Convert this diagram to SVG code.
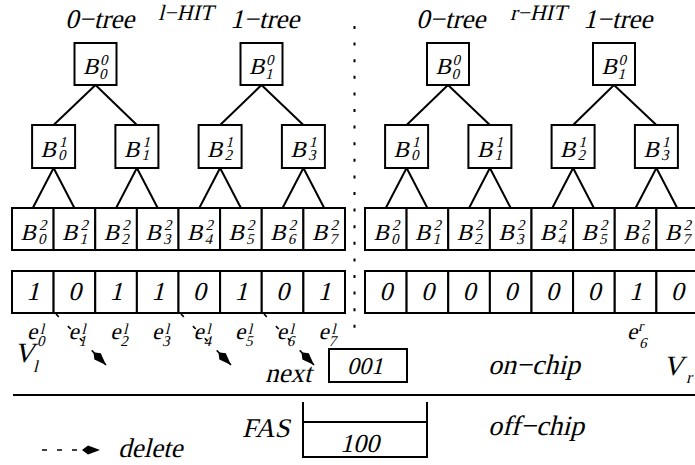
<svg xmlns="http://www.w3.org/2000/svg" width="695" height="465" viewBox="0 0 695 465">
<style>
text{font-family:'Liberation Serif','Times New Roman',serif;font-style:normal;fill:#000}
.b{font-size:23px}
.s{font-size:15px}
.d{font-size:26px}
.big{font-size:27px}
.hit{font-size:22px}
.box{fill:#fff;stroke:#000;stroke-width:2}
.edge{stroke:#000;stroke-width:2;fill:none}
.dash{stroke:#000;stroke-width:1.6;fill:none;stroke-dasharray:4 13}
</style>
<defs>
<marker id="kite" viewBox="-19 -6 20 12" markerWidth="20" markerHeight="12" refX="0" refY="0" orient="auto" markerUnits="userSpaceOnUse">
<path d="M0,0 L-12,-4.5 L-18,0 L-12,4.5 Z" fill="#000"/>
</marker>
</defs>
<rect width="695" height="465" fill="#fff"/>

<!-- titles -->
<text class="big" transform="translate(65,28) skewX(-14)">0−tree</text>
<text class="hit" transform="translate(158,20) skewX(-14)">l−HIT</text>
<text class="big" transform="translate(230,28) skewX(-14)">1−tree</text>
<text class="big" transform="translate(416,28) skewX(-14)">0−tree</text>
<text class="hit" transform="translate(510,20) skewX(-14)">r−HIT</text>
<text class="big" transform="translate(583,28) skewX(-14)">1−tree</text>

<!-- connectors -->
<g id="connectors">
<path class="edge" d="M95.5,85 L53.6,125 M95.5,85 L136.9,125 M261.5,85 L220.1,125 M261.5,85 L303.4,125"/>
<path class="edge" d="M53.6,168 L32.8,208 M53.6,168 L74.4,208 M136.9,168 L116.1,208 M136.9,168 L157.7,208 M220.1,168 L199.3,208 M220.1,168 L240.9,208 M303.4,168 L282.6,208 M303.4,168 L324.2,208"/>
<path class="edge" d="M448,85 L406.6,125 M448,85 L489.9,125 M614,85 L573.1,125 M614,85 L656.4,125"/>
<path class="edge" d="M406.6,168 L385.8,208 M406.6,168 L427.4,208 M489.9,168 L469.1,208 M489.9,168 L510.7,208 M573.1,168 L552.3,208 M573.1,168 L593.9,208 M656.4,168 L635.6,208 M656.4,168 L677.2,208"/>
<line class="dash" x1="56" y1="314" x2="106" y2="365" marker-end="url(#kite)"/>
<line class="dash" x1="181" y1="314" x2="231" y2="365" marker-end="url(#kite)"/>
<line class="dash" x1="264" y1="314" x2="314" y2="365" marker-end="url(#kite)"/>
</g>

<!-- separator lines -->
<line x1="354.5" y1="26" x2="354.5" y2="331" stroke="#000" stroke-width="2" stroke-dasharray="3 13.6"/>
<line x1="13" y1="395" x2="695" y2="395" stroke="#000" stroke-width="2"/>

<!-- left tree -->
<g id="lB00"><rect class="box" x="74.5" y="43" width="42" height="42"/><text class="b" transform="translate(83,74) skewX(-14)">B</text><text class="s" transform="translate(100,65) skewX(-14)">0</text><text class="s" transform="translate(99,79) skewX(-14)">0</text></g>
<g id="lB10"><rect class="box" x="240.5" y="43" width="42" height="42"/><text class="b" transform="translate(249,74) skewX(-14)">B</text><text class="s" transform="translate(266,65) skewX(-14)">0</text><text class="s" transform="translate(265,79) skewX(-14)">1</text></g>

<g id="lB01"><rect class="box" x="32.1" y="125" width="43" height="43"/><text class="b" transform="translate(40.6,157) skewX(-14)">B</text><text class="s" transform="translate(59,147) skewX(-14)">1</text><text class="s" transform="translate(58,160) skewX(-14)">0</text></g>
<g id="lB11"><rect class="box" x="115.4" y="125" width="43" height="43"/><text class="b" transform="translate(123.9,157) skewX(-14)">B</text><text class="s" transform="translate(142.4,147) skewX(-14)">1</text><text class="s" transform="translate(141.4,160) skewX(-14)">1</text></g>
<g id="lB21"><rect class="box" x="198.6" y="125" width="43" height="43"/><text class="b" transform="translate(207.1,157) skewX(-14)">B</text><text class="s" transform="translate(225.6,147) skewX(-14)">1</text><text class="s" transform="translate(224.6,160) skewX(-14)">2</text></g>
<g id="lB31"><rect class="box" x="281.9" y="125" width="43" height="43"/><text class="b" transform="translate(290.4,157) skewX(-14)">B</text><text class="s" transform="translate(308.9,147) skewX(-14)">1</text><text class="s" transform="translate(307.9,160) skewX(-14)">3</text></g>

<g id="lB02"><rect class="box" x="12" y="208" width="41.6" height="42"/><text class="b" transform="translate(20.5,240) skewX(-14)">B</text><text class="s" transform="translate(39,230) skewX(-14)">2</text><text class="s" transform="translate(38,244) skewX(-14)">0</text></g>
<g id="lB12"><rect class="box" x="53.6" y="208" width="41.6" height="42"/><text class="b" transform="translate(62.1,240) skewX(-14)">B</text><text class="s" transform="translate(80.6,230) skewX(-14)">2</text><text class="s" transform="translate(79.6,244) skewX(-14)">1</text></g>
<g id="lB22"><rect class="box" x="95.25" y="208" width="41.6" height="42"/><text class="b" transform="translate(103.7,240) skewX(-14)">B</text><text class="s" transform="translate(122.2,230) skewX(-14)">2</text><text class="s" transform="translate(121.2,244) skewX(-14)">2</text></g>
<g id="lB32"><rect class="box" x="136.9" y="208" width="41.6" height="42"/><text class="b" transform="translate(145.4,240) skewX(-14)">B</text><text class="s" transform="translate(163.9,230) skewX(-14)">2</text><text class="s" transform="translate(162.9,244) skewX(-14)">3</text></g>
<g id="lB42"><rect class="box" x="178.5" y="208" width="41.6" height="42"/><text class="b" transform="translate(187,240) skewX(-14)">B</text><text class="s" transform="translate(205.5,230) skewX(-14)">2</text><text class="s" transform="translate(204.5,244) skewX(-14)">4</text></g>
<g id="lB52"><rect class="box" x="220.1" y="208" width="41.6" height="42"/><text class="b" transform="translate(228.6,240) skewX(-14)">B</text><text class="s" transform="translate(247.1,230) skewX(-14)">2</text><text class="s" transform="translate(246.1,244) skewX(-14)">5</text></g>
<g id="lB62"><rect class="box" x="261.75" y="208" width="41.6" height="42"/><text class="b" transform="translate(270.2,240) skewX(-14)">B</text><text class="s" transform="translate(288.7,230) skewX(-14)">2</text><text class="s" transform="translate(287.7,244) skewX(-14)">6</text></g>
<g id="lB72"><rect class="box" x="303.4" y="208" width="41.6" height="42"/><text class="b" transform="translate(311.9,240) skewX(-14)">B</text><text class="s" transform="translate(330.4,230) skewX(-14)">2</text><text class="s" transform="translate(329.4,244) skewX(-14)">7</text></g>

<!-- right tree -->
<g id="rB00"><rect class="box" x="427" y="43" width="42" height="42"/><text class="b" transform="translate(435.5,74) skewX(-14)">B</text><text class="s" transform="translate(452.5,65) skewX(-14)">0</text><text class="s" transform="translate(451.5,79) skewX(-14)">0</text></g>
<g id="rB10"><rect class="box" x="593" y="43" width="42" height="42"/><text class="b" transform="translate(601.5,74) skewX(-14)">B</text><text class="s" transform="translate(618.5,65) skewX(-14)">0</text><text class="s" transform="translate(617.5,79) skewX(-14)">1</text></g>

<g id="rB01"><rect class="box" x="385.1" y="125" width="43" height="43"/><text class="b" transform="translate(393.6,157) skewX(-14)">B</text><text class="s" transform="translate(412.1,147) skewX(-14)">1</text><text class="s" transform="translate(411.1,160) skewX(-14)">0</text></g>
<g id="rB11"><rect class="box" x="468.4" y="125" width="43" height="43"/><text class="b" transform="translate(476.9,157) skewX(-14)">B</text><text class="s" transform="translate(495.4,147) skewX(-14)">1</text><text class="s" transform="translate(494.4,160) skewX(-14)">1</text></g>
<g id="rB21"><rect class="box" x="551.6" y="125" width="43" height="43"/><text class="b" transform="translate(560.1,157) skewX(-14)">B</text><text class="s" transform="translate(578.6,147) skewX(-14)">1</text><text class="s" transform="translate(577.6,160) skewX(-14)">2</text></g>
<g id="rB31"><rect class="box" x="634.9" y="125" width="43" height="43"/><text class="b" transform="translate(643.4,157) skewX(-14)">B</text><text class="s" transform="translate(661.9,147) skewX(-14)">1</text><text class="s" transform="translate(660.9,160) skewX(-14)">3</text></g>

<g id="rB02"><rect class="box" x="365" y="208" width="41.6" height="42"/><text class="b" transform="translate(373.5,240) skewX(-14)">B</text><text class="s" transform="translate(392,230) skewX(-14)">2</text><text class="s" transform="translate(391,244) skewX(-14)">0</text></g>
<g id="rB12"><rect class="box" x="406.6" y="208" width="41.6" height="42"/><text class="b" transform="translate(415.1,240) skewX(-14)">B</text><text class="s" transform="translate(433.6,230) skewX(-14)">2</text><text class="s" transform="translate(432.6,244) skewX(-14)">1</text></g>
<g id="rB22"><rect class="box" x="448.25" y="208" width="41.6" height="42"/><text class="b" transform="translate(456.7,240) skewX(-14)">B</text><text class="s" transform="translate(475.2,230) skewX(-14)">2</text><text class="s" transform="translate(474.2,244) skewX(-14)">2</text></g>
<g id="rB32"><rect class="box" x="489.9" y="208" width="41.6" height="42"/><text class="b" transform="translate(498.4,240) skewX(-14)">B</text><text class="s" transform="translate(516.9,230) skewX(-14)">2</text><text class="s" transform="translate(515.9,244) skewX(-14)">3</text></g>
<g id="rB42"><rect class="box" x="531.5" y="208" width="41.6" height="42"/><text class="b" transform="translate(540,240) skewX(-14)">B</text><text class="s" transform="translate(558.5,230) skewX(-14)">2</text><text class="s" transform="translate(557.5,244) skewX(-14)">4</text></g>
<g id="rB52"><rect class="box" x="573.1" y="208" width="41.6" height="42"/><text class="b" transform="translate(581.6,240) skewX(-14)">B</text><text class="s" transform="translate(600.1,230) skewX(-14)">2</text><text class="s" transform="translate(599.1,244) skewX(-14)">5</text></g>
<g id="rB62"><rect class="box" x="614.75" y="208" width="41.6" height="42"/><text class="b" transform="translate(623.2,240) skewX(-14)">B</text><text class="s" transform="translate(641.7,230) skewX(-14)">2</text><text class="s" transform="translate(640.7,244) skewX(-14)">6</text></g>
<g id="rB72"><rect class="box" x="656.4" y="208" width="41.6" height="42"/><text class="b" transform="translate(664.9,240) skewX(-14)">B</text><text class="s" transform="translate(683.4,230) skewX(-14)">2</text><text class="s" transform="translate(682.4,244) skewX(-14)">7</text></g>

<!-- bit vectors -->
<g id="Vl" text-anchor="middle">
<rect class="box" x="12" y="271" width="41.6" height="42"/><text class="d" transform="translate(32.8,300) skewX(-14)">1</text>
<rect class="box" x="53.6" y="271" width="41.6" height="42"/><text class="d" transform="translate(74.4,300) skewX(-14)">0</text>
<rect class="box" x="95.25" y="271" width="41.6" height="42"/><text class="d" transform="translate(116.1,300) skewX(-14)">1</text>
<rect class="box" x="136.9" y="271" width="41.6" height="42"/><text class="d" transform="translate(157.7,300) skewX(-14)">1</text>
<rect class="box" x="178.5" y="271" width="41.6" height="42"/><text class="d" transform="translate(199.3,300) skewX(-14)">0</text>
<rect class="box" x="220.1" y="271" width="41.6" height="42"/><text class="d" transform="translate(240.9,300) skewX(-14)">1</text>
<rect class="box" x="261.75" y="271" width="41.6" height="42"/><text class="d" transform="translate(282.6,300) skewX(-14)">0</text>
<rect class="box" x="303.4" y="271" width="41.6" height="42"/><text class="d" transform="translate(324.2,300) skewX(-14)">1</text>
</g>
<g id="Vr" text-anchor="middle">
<rect class="box" x="365" y="271" width="41.6" height="42"/><text class="d" transform="translate(385.8,300) skewX(-14)">0</text>
<rect class="box" x="406.6" y="271" width="41.6" height="42"/><text class="d" transform="translate(427.4,300) skewX(-14)">0</text>
<rect class="box" x="448.25" y="271" width="41.6" height="42"/><text class="d" transform="translate(469.1,300) skewX(-14)">0</text>
<rect class="box" x="489.9" y="271" width="41.6" height="42"/><text class="d" transform="translate(510.7,300) skewX(-14)">0</text>
<rect class="box" x="531.5" y="271" width="41.6" height="42"/><text class="d" transform="translate(552.3,300) skewX(-14)">0</text>
<rect class="box" x="573.1" y="271" width="41.6" height="42"/><text class="d" transform="translate(593.9,300) skewX(-14)">0</text>
<rect class="box" x="614.75" y="271" width="41.6" height="42"/><text class="d" transform="translate(635.6,300) skewX(-14)">1</text>
<rect class="box" x="656.4" y="271" width="41.6" height="42"/><text class="d" transform="translate(677.2,300) skewX(-14)">0</text>
</g>

<!-- element labels -->
<g id="elabels">
<text class="b" transform="translate(27,339) skewX(-14)">e</text><text class="s" transform="translate(40,334) skewX(-14)">l</text><text class="s" transform="translate(37,346) skewX(-14)">0</text>
<text class="b" transform="translate(68.6,339) skewX(-14)">e</text><text class="s" transform="translate(81.6,334) skewX(-14)">l</text><text class="s" transform="translate(78.6,346) skewX(-14)">1</text>
<text class="b" transform="translate(110.3,339) skewX(-14)">e</text><text class="s" transform="translate(123.3,334) skewX(-14)">l</text><text class="s" transform="translate(120.3,346) skewX(-14)">2</text>
<text class="b" transform="translate(151.9,339) skewX(-14)">e</text><text class="s" transform="translate(164.9,334) skewX(-14)">l</text><text class="s" transform="translate(161.9,346) skewX(-14)">3</text>
<text class="b" transform="translate(193.5,339) skewX(-14)">e</text><text class="s" transform="translate(206.5,334) skewX(-14)">l</text><text class="s" transform="translate(203.5,346) skewX(-14)">4</text>
<text class="b" transform="translate(235.1,339) skewX(-14)">e</text><text class="s" transform="translate(248.1,334) skewX(-14)">l</text><text class="s" transform="translate(245.1,346) skewX(-14)">5</text>
<text class="b" transform="translate(276.8,339) skewX(-14)">e</text><text class="s" transform="translate(289.8,334) skewX(-14)">l</text><text class="s" transform="translate(286.8,346) skewX(-14)">6</text>
<text class="b" transform="translate(318.4,339) skewX(-14)">e</text><text class="s" transform="translate(331.4,334) skewX(-14)">l</text><text class="s" transform="translate(328.4,346) skewX(-14)">7</text>
<text class="b" transform="translate(627,339) skewX(-14)">e</text><text class="s" transform="translate(638,331) skewX(-14)">r</text><text class="s" transform="translate(639,348) skewX(-14)">6</text>
</g>

<g id="VlLabel"><text style="font-size:28px" transform="translate(14,362) skewX(-14)">V</text><text style="font-size:17px" transform="translate(33,372) skewX(-14)">l</text></g>
<g id="VrLabel"><text style="font-size:28px" transform="translate(663,375) skewX(-14)">V</text><text style="font-size:17px" transform="translate(686,383) skewX(-14)">r</text></g>

<!-- next pointer -->
<g id="next"><text class="big" transform="translate(265,382) skewX(-14)">next</text><rect class="box" x="329" y="349" width="78" height="33"/><text style="font-size:24px" transform="translate(347,374) skewX(-14)">001</text></g>
<text style="font-size:28px" transform="translate(488,374) skewX(-14)">on−chip</text>
<text style="font-size:28px" transform="translate(488,435) skewX(-14)">off−chip</text>

<!-- FAS -->
<g id="FAS">
<text class="big" transform="translate(242,437) skewX(-14)">FAS</text>
<path class="edge" d="M303,402 L303,457 L427,457 L427,402 M303,422 L427,422"/>
<text style="font-size:26px" transform="translate(340,452) skewX(-14)">100</text>
</g>

<!-- legend -->
<g id="legend">
<line class="dash" x1="42" y1="450" x2="100" y2="450" style="stroke-dasharray:5 10" marker-end="url(#kite)"/>
<text class="big" transform="translate(118,457) skewX(-14)">delete</text>
</g>
</svg>
